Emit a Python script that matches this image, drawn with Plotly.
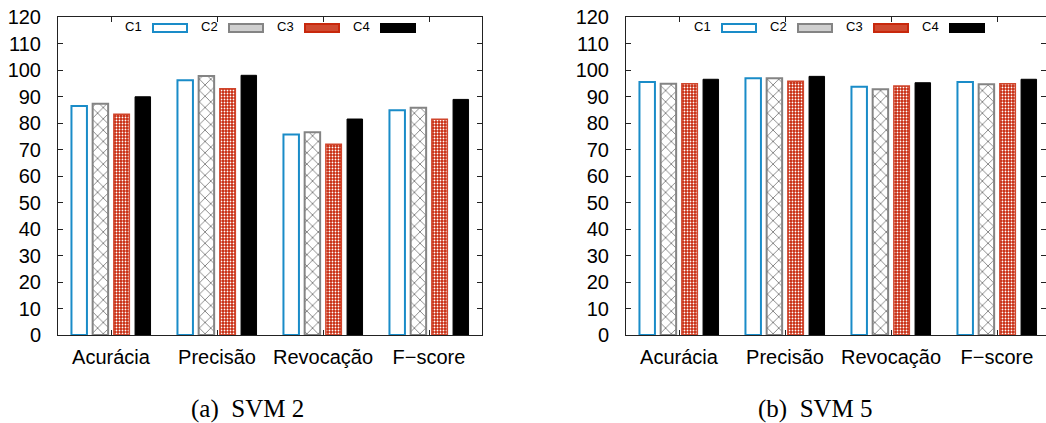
import plotly.graph_objects as go

categories = ["Acurácia", "Precisão", "Revocação", "F\u2212score"]
series_names = ["C1", "C2", "C3", "C4"]

svm2_c1 = [86.4, 96.1, 75.7, 84.8]
svm2_c2 = [87.3, 97.7, 76.5, 85.8]
svm2_c3 = [83.3, 92.9, 72.0, 81.4]
svm2_c4 = [89.9, 98.0, 81.5, 88.9]

svm5_c1 = [95.5, 96.9, 93.7, 95.5]
svm5_c2 = [94.8, 96.9, 92.7, 94.6]
svm5_c3 = [94.8, 95.8, 94.0, 94.8]
svm5_c4 = [96.5, 97.6, 95.2, 96.5]

y_ticks = list(range(0, 121, 10))
captions = ["(a)  SVM 2", "(b)  SVM 5"]

W, H = 1046, 423
BLUE = "#1a8cc8"
GRAY = "#848484"
RED = "#c8280c"
BLACK = "#000000"

styles = [
    dict(color="white", line=dict(color=BLUE, width=2)),
    dict(color="white", line=dict(color=GRAY, width=2),
         pattern=dict(shape="x", fgcolor=GRAY, bgcolor="white", size=8, solidity=0.22, fillmode="replace")),
    dict(color=RED, line=dict(color="#d0452c", width=1.5),
         pattern=dict(shape=".", fgcolor="white", bgcolor=RED, size=3, solidity=0.3, fillmode="replace")),
    dict(color=BLACK, line=dict(color=BLACK, width=1)),
]
# legend swatch look (border colour, fill colour)
swatches = [(BLUE, "white"), (GRAY, "#cfcfcf"), (RED, "#d04a30"), (BLACK, BLACK)]

fig = go.Figure()
xs = list(range(len(categories)))

for p, data in enumerate([[svm2_c1, svm2_c2, svm2_c3, svm2_c4],
                          [svm5_c1, svm5_c2, svm5_c3, svm5_c4]]):
    for i, (name, vals) in enumerate(zip(series_names, data)):
        fig.add_trace(go.Bar(
            x=xs, y=vals, name=name,
            marker=styles[i],
            xaxis="x" if p == 0 else "x2",
            yaxis="y" if p == 0 else "y2",
            showlegend=False,
        ))

ytop = 1 - 17 / H
ybot = 1 - 335 / H
axis_font = dict(family="Liberation Sans, Arial, sans-serif", size=20, color="black")

common_x = dict(tickmode="array", tickvals=xs, ticktext=categories, ticks="inside",
                ticklen=5, tickcolor="#222", showline=True, linecolor="#222", linewidth=1,
                mirror="allticks", showgrid=False, zeroline=False, tickfont=axis_font,
                ticklabelstandoff=4, automargin=False)
common_y = dict(range=[0, 120], tickmode="array", tickvals=y_ticks, ticks="inside",
                ticklen=5, tickcolor="#222", showline=True, linecolor="#222", linewidth=1,
                mirror="allticks", showgrid=False, zeroline=False, tickfont=axis_font,
                ticklabelstandoff=12, automargin=False)

x1 = dict(common_x); x1.update(domain=[58 / W, 482 / W], range=[-0.5, 3.5], anchor="y")
x2 = dict(common_x); x2.update(domain=[626 / W, 1.0], range=[-0.5, 3.5 - 4 / 106], anchor="y2")
y1 = dict(common_y); y1.update(domain=[ybot, ytop], anchor="x")
y2 = dict(common_y); y2.update(domain=[ybot, ytop], anchor="x2")

fig.update_layout(
    width=W, height=H,
    margin=dict(l=0, r=0, t=0, b=0, autoexpand=False),
    paper_bgcolor="white", plot_bgcolor="white",
    barmode="group", bargap=0.2, bargroupgap=0.27,
    xaxis=x1, yaxis=y1, xaxis2=x2, yaxis2=y2,
    showlegend=False,
    font=dict(family="Liberation Sans, Arial, sans-serif", color="black"),
)

# custom legends (text to the left of each swatch, gnuplot style)
legend_font = dict(family="Liberation Sans, Arial, sans-serif", size=13, color="black")
for off in [0, 569]:
    for i, name in enumerate(series_names):
        sx0 = 152 + 76 * i + off
        fig.add_annotation(text=name, x=(sx0 - 8) / W, y=1 - 27 / H, xref="paper", yref="paper",
                           showarrow=False, xanchor="right", yanchor="middle", font=legend_font)
        border, fill = swatches[i]
        fig.add_shape(type="rect", xref="paper", yref="paper",
                      x0=(sx0 + 1) / W, x1=(sx0 + 35) / W, y0=1 - 32 / H, y1=1 - 24 / H,
                      line=dict(color=border, width=2), fillcolor=fill)

for cx, text in zip([247, 815], captions):
    fig.add_annotation(text=text, x=cx / W, y=1 - 409 / H, xref="paper", yref="paper",
                       showarrow=False, xanchor="center", yanchor="middle",
                       font=dict(family="Liberation Serif, Times New Roman, serif", size=25, color="black"))

js = ("var s='margin:0;padding:0;overflow:hidden;width:1046px;height:423px;';"
      "document.documentElement.style.cssText=s;document.body.style.cssText=s;")
fig.write_html("out.html", config={"displayModeBar": False, "staticPlot": True},
               post_script=js)
